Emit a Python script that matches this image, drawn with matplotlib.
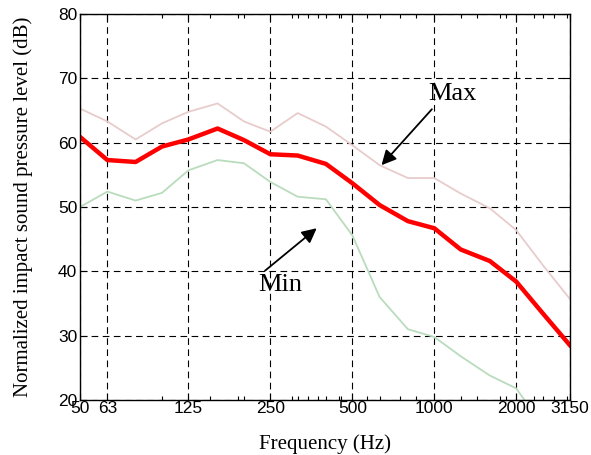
import numpy as np
import matplotlib.pyplot as plt
from matplotlib.ticker import FixedLocator, NullFormatter

# 1/3 octave band centre frequencies (Hz)
freqs = [50, 63, 80, 100, 125, 160, 200, 250, 315, 400, 500,
         630, 800, 1000, 1250, 1600, 2000, 2500, 3150]

# normalized impact sound pressure level (dB)
level_max = [65.3, 63.3, 60.5, 63.0, 64.8, 66.1, 63.3, 61.7, 64.6, 62.5, 59.6,
             56.5, 54.5, 54.5, 52.1, 49.8, 46.4, 41.0, 35.7]
level_mean = [60.9, 57.3, 57.0, 59.4, 60.5, 62.2, 60.4, 58.2, 58.0, 56.7, 53.7,
              50.3, 47.8, 46.7, 43.4, 41.6, 38.4, 33.5, 28.5]
level_min = [50.0, 52.4, 51.0, 52.2, 55.7, 57.3, 56.8, 53.9, 51.6, 51.2, 45.6,
             36.0, 31.0, 29.8, 26.8, 23.8, 21.8, 16.0, 13.0]

xticks = [50, 63, 125, 250, 500, 1000, 2000, 3150]
yticks = [20, 30, 40, 50, 60, 70, 80]
minor_xticks = [100, 150, 190, 200, 300, 315, 345, 375, 400, 445, 455, 565, 630,
                750, 860, 1250, 1430, 1740, 1840, 2320, 2500, 2750, 3070]

fig = plt.figure(figsize=(5.91, 4.55), dpi=100)
ax = fig.add_axes([0.1354, 0.1209, 0.829, 0.8483])

ax.plot(freqs, level_max, color="#e8cccc", linewidth=1.3)
ax.plot(freqs, level_min, color="#b9dcbd", linewidth=1.3)
ax.plot(freqs, level_mean, color="#ff0000", linewidth=3.2)

ax.set_xscale("log")
ax.set_xlim(50, 3150)
ax.set_ylim(20, 80)
ax.xaxis.set_major_locator(FixedLocator(xticks))
ax.xaxis.set_minor_locator(FixedLocator(minor_xticks))
ax.xaxis.set_minor_formatter(NullFormatter())
ax.set_xticklabels([str(t) for t in xticks])
ax.set_yticks(yticks)

ax.tick_params(which="both", direction="in", top=True, right=True,
               labelsize=12.5, width=0.8)
ax.tick_params(which="major", length=5)
ax.tick_params(which="minor", length=3)
for lbl in ax.get_xticklabels() + ax.get_yticklabels():
    lbl.set_family("Liberation Sans")
ax.tick_params(axis="x", pad=1)
ax.tick_params(axis="y", pad=2)

ax.grid(True, which="major", color="black", linestyle=(0, (6, 4)), linewidth=0.8)
for s in ax.spines.values():
    s.set_linewidth(1.0)

ax.set_xlabel("Frequency (Hz)", family="Liberation Serif", fontsize=15, labelpad=13)
ax.set_ylabel("Normalized impact sound pressure level (dB)",
              family="Liberation Serif", fontsize=15, labelpad=18)

# annotations
arrow = dict(arrowstyle="-|>", color="black", lw=1.3, mutation_scale=22,
             shrinkA=0, shrinkB=0)
ax.annotate("", xy=(640, 56.5), xytext=(980, 65.2), arrowprops=arrow)
ax.text(1170, 67.6, "Max", fontsize=19, family="Liberation Serif",
        ha="center", va="center")
ax.annotate("", xy=(370, 46.7), xytext=(239, 40.1), arrowprops=arrow)
ax.text(271, 37.9, "Min", fontsize=19, family="Liberation Serif",
        ha="center", va="center")

fig.savefig("out.png", dpi=100)
